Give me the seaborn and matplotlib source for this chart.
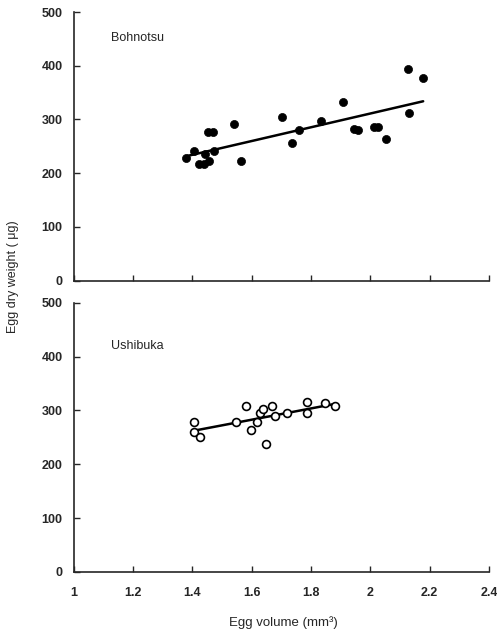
import matplotlib
matplotlib.use("Agg")
import matplotlib.pyplot as plt
import seaborn as sns
import pandas as pd

# Bohnotsu data
boh_volume = [1.379, 1.406, 1.421, 1.438, 1.444, 1.455, 1.453, 1.469, 1.474, 1.539,
              1.563, 1.702, 1.735, 1.758, 1.835, 1.908, 1.946, 1.957, 2.013, 2.027,
              2.052, 2.127, 2.129, 2.178]
boh_weight = [228, 241, 217, 217, 235, 222, 276, 276, 241, 292,
              223, 305, 257, 281, 297, 332, 283, 280, 286, 286,
              263, 395, 312, 377]

# Ushibuka data
ush_volume = [1.407, 1.407, 1.427, 1.549, 1.580, 1.599, 1.619, 1.628, 1.640, 1.648,
              1.668, 1.679, 1.718, 1.787, 1.787, 1.846, 1.882]
ush_weight = [279, 260, 251, 278, 309, 263, 278, 295, 302, 237,
              309, 289, 295, 315, 296, 314, 309]

x_ticks = [1, 1.2, 1.4, 1.6, 1.8, 2, 2.2, 2.4]
x_tick_labels = ["1", "1.2", "1.4", "1.6", "1.8", "2", "2.2", "2.4"]
y_ticks = [0, 100, 200, 300, 400, 500]

df_boh = pd.DataFrame({"volume": boh_volume, "weight": boh_weight})
df_ush = pd.DataFrame({"volume": ush_volume, "weight": ush_weight})

sns.set_style("ticks")
plt.rcParams['font.family'] = ['Liberation Sans', 'DejaVu Sans']

fig = plt.figure(figsize=(4.97, 6.39), dpi=100)
ax1 = fig.add_axes([0.148, 0.561, 0.836, 0.420])
ax2 = fig.add_axes([0.148, 0.105, 0.836, 0.421])

sns.scatterplot(data=df_boh, x="volume", y="weight", ax=ax1, color="black",
                s=34, edgecolor="black", linewidth=0.5, zorder=3)
sns.regplot(data=df_boh, x="volume", y="weight", ax=ax1, scatter=False, ci=None,
            color="black", line_kws={"linewidth": 1.8})

sns.scatterplot(data=df_ush, x="volume", y="weight", ax=ax2, facecolor="white",
                s=32, edgecolor="black", linewidth=1.2, zorder=3)
sns.regplot(data=df_ush, x="volume", y="weight", ax=ax2, scatter=False, ci=None,
            color="black", line_kws={"linewidth": 1.8})

for ax in (ax1, ax2):
    ax.set_xlim(1, 2.4)
    ax.set_ylim(0, 500)
    ax.set_xticks(x_ticks)
    ax.set_yticks(y_ticks)
    ax.set_yticklabels([str(t) for t in y_ticks], fontsize=9, fontweight="bold")
    ax.tick_params(direction="in", length=4, width=1)
    ax.tick_params(axis="x", pad=11)
    ax.tick_params(axis="y", pad=8)
    for side in ("top", "right"):
        ax.spines[side].set_visible(False)
    for side in ("left", "bottom"):
        ax.spines[side].set_linewidth(1.2)
    ax.set_xlabel("")
    ax.set_ylabel("")

ax1.set_xticklabels([])
ax2.set_xticklabels(x_tick_labels, fontsize=9, fontweight="bold")

ax1.text(1.127, 452, "Bohnotsu", fontsize=9, va="center", ha="left")
ax2.text(1.127, 420, "Ushibuka", fontsize=9, va="center", ha="left")

fig.text(0.026, 0.567, "Egg dry weight ( \u03bcg)", rotation=90, fontsize=9,
         va="center", ha="center")
fig.text(0.57, 0.025, "Egg volume (mm\u00b3)", fontsize=9.5, va="center", ha="center")

fig.savefig("out.png", dpi=100)
